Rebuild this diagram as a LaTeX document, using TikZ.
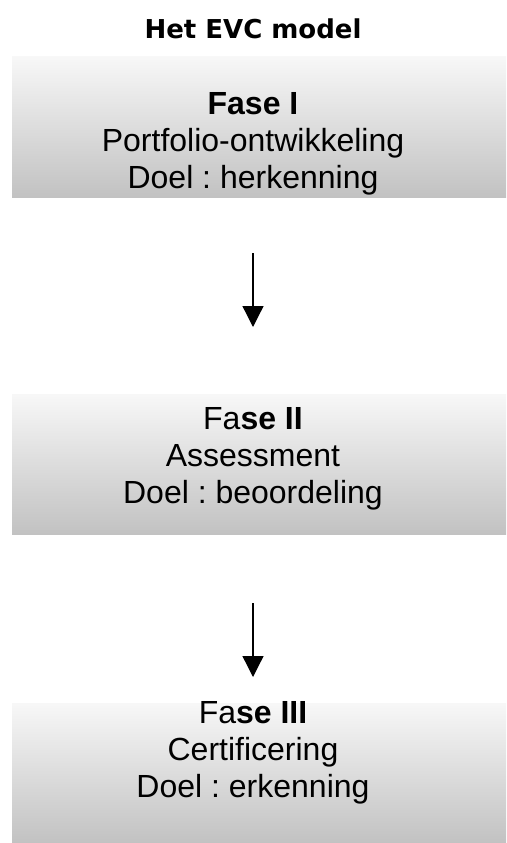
\documentclass[tikz,border=0pt]{standalone}
\usepackage{fontspec}
\setmainfont{Liberation Sans}
\newfontfamily\titlefont{DejaVu Sans}
\usetikzlibrary{arrows.meta}
\frenchspacing
\begin{document}
\begin{tikzpicture}[x=1pt,y=-1pt,
  phasebox/.style={minimum width=494pt,minimum height=140pt,inner sep=0pt,
    top color=white!97!black,bottom color=black!24,draw=none},
  phasetext/.style={align=center,font=\frenchspacing\fontsize{32}{37}\selectfont,inner sep=0pt},
  flow/.style={line width=1.3pt,-{Triangle[length=21pt,width=21pt]}}]
\useasboundingbox (0,0) rectangle (506,843);
\node[font=\titlefont\bfseries\fontsize{26}{30}\selectfont] (title) at (253,29) {Het EVC model};
\node[phasebox] (b1) at (259,127) {};
\node[phasebox] (b2) at (259,464) {};
\node[phasebox] (b3) at (259,773) {};
\node[phasetext] (t1) at (253,144) {\textbf{Fase I}\\Portfolio-ontwikkeling\\Doel : herkenning};
\node[phasetext] (t2) at (253,459) {Fa\textbf{se II}\\Assessment\\Doel : beoordeling};
\node[phasetext] (t3) at (253,753) {Fa\textbf{se III}\\Certificering\\Doel : erkenning};
\coordinate (a1s) at (253,253);
\coordinate (a1e) at (253,327);
\coordinate (a2s) at (253,603);
\coordinate (a2e) at (253,677);
\draw[flow] (a1s) -- (a1e);
\draw[flow] (a2s) -- (a2e);
\end{tikzpicture}
\end{document}
